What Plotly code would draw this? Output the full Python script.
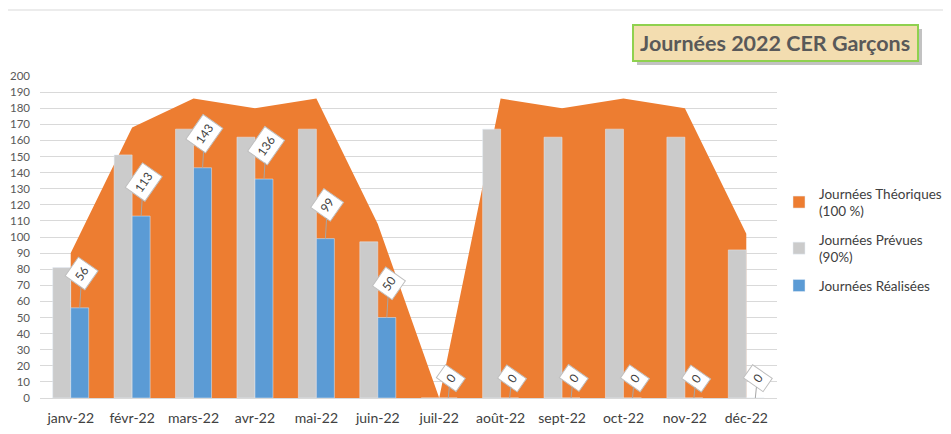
import plotly.graph_objects as go

months = ["janv-22", "févr-22", "mars-22", "avr-22", "mai-22", "juin-22",
          "juil-22", "août-22", "sept-22", "oct-22", "nov-22", "déc-22"]
theoriques = [90, 168, 186, 180, 186, 108, 0, 186, 180, 186, 180, 102]
prevues = [81, 151, 167, 162, 167, 97, 0, 167, 162, 167, 162, 92]
realisees = [56, 113, 143, 136, 99, 50, 0, 0, 0, 0, 0, 0]
y_ticks = list(range(0, 201, 10))

FONT = "Lato"
TXT = "#404040"
ORANGE = "#ED7D31"

fig = go.Figure()
fig.add_trace(go.Scatter(
    x=months, y=theoriques, name="Journées Théoriques<br>(100 %)",
    mode="none", fill="tozeroy", fillcolor=ORANGE,
    xaxis="x", yaxis="y", showlegend=False, hoverinfo="skip"))
# legend-only square swatch for the area series
fig.add_trace(go.Bar(
    x=[months[0]], y=[None], name="Journées Théoriques<br>(100 %)",
    marker_color=ORANGE, xaxis="x", yaxis="y", legendgroup="a"))
fig.add_trace(go.Bar(
    x=months, y=prevues, name="Journées Prévues<br>(90%)",
    marker_color="#CBCBCB", xaxis="x2", yaxis="y2", legendgroup="b"))
fig.add_trace(go.Bar(
    x=months, y=realisees, name="Journées Réalisées",
    marker_color="#5B9BD5", xaxis="x2", yaxis="y2", legendgroup="c"))

annotations = []
for i, v in enumerate(realisees):
    annotations.append(dict(
        x=i + 0.147, y=v, xref="x2", yref="y2", text=str(v),
        showarrow=True, arrowhead=0, arrowwidth=1, arrowcolor="#A6A6A6",
        ax=2, ay=-34 if v > 0 else -20, textangle=-55,
        font=dict(family=FONT, size=12, color=TXT),
        bgcolor="white", bordercolor="#BFBFBF", borderwidth=1, borderpad=4))

# page-pixel geometry of the plot area (page has an 8px body margin)
OFF = 8
L, R, T, B = 40, 777, 76, 398
W, H = R - L, B - T
px = lambda v: (v - L) / W
py = lambda v: (B - v) / H

annotations.append(dict(
    x=px(775), y=py(43), xref="paper", yref="paper", xanchor="center", yanchor="middle",
    text="<b>Journées 2022 CER Garçons</b>", showarrow=False,
    font=dict(family=FONT, size=21.5, color="#595959")))

shapes = [
    dict(type="line", xref="paper", yref="paper", x0=px(OFF), x1=px(951), y0=py(10), y1=py(10),
         line=dict(color="#D9D9D9", width=1), layer="below"),
    dict(type="rect", xref="paper", yref="paper", x0=px(637), x1=px(922), y0=py(29), y1=py(65),
         fillcolor="#9A9A9A", line=dict(width=0), opacity=0.6, layer="below"),
    dict(type="rect", xref="paper", yref="paper", x0=px(633), x1=px(918), y0=py(25), y1=py(61),
         fillcolor="#F3DDB0", line=dict(color="#8FD14F", width=2), layer="below"),
]

FW, FH = 951 - OFF, 434 - OFF
fig.update_layout(
    width=FW, height=FH,
    margin=dict(l=L - OFF, r=FW - (R - OFF), t=T - OFF, b=FH - (B - OFF), autoexpand=False),
    paper_bgcolor="white", plot_bgcolor="white",
    barmode="group", bargap=0.414, bargroupgap=0,
    font=dict(family=FONT, color=TXT),
    xaxis=dict(type="category", range=[-0.5, 11.5], showgrid=False,
               showline=True, linecolor="#D9D9D9", ticks="",
               tickfont=dict(size=14, color=TXT), ticklabelstandoff=7),
    xaxis2=dict(type="category", range=[-0.5, 11.5], overlaying="x", visible=False),
    yaxis=dict(range=[0, 200], tickvals=y_ticks, ticktext=[str(t) for t in y_ticks],
               showgrid=True, gridcolor="#D9D9D9", gridwidth=1, zeroline=False,
               showline=False, tickfont=dict(size=11.5, color="#595959"),
               ticklabelstandoff=9),
    yaxis2=dict(range=[0, 200], overlaying="y", visible=False),
    legend=dict(x=px(779), y=py(178), xanchor="left", yanchor="top",
                font=dict(family=FONT, size=13.5, color=TXT), tracegroupgap=8,
                traceorder="grouped", bgcolor="rgba(0,0,0,0)", itemwidth=30),
    annotations=annotations, shapes=shapes, showlegend=True,
)

fig.write_html("out.html")
